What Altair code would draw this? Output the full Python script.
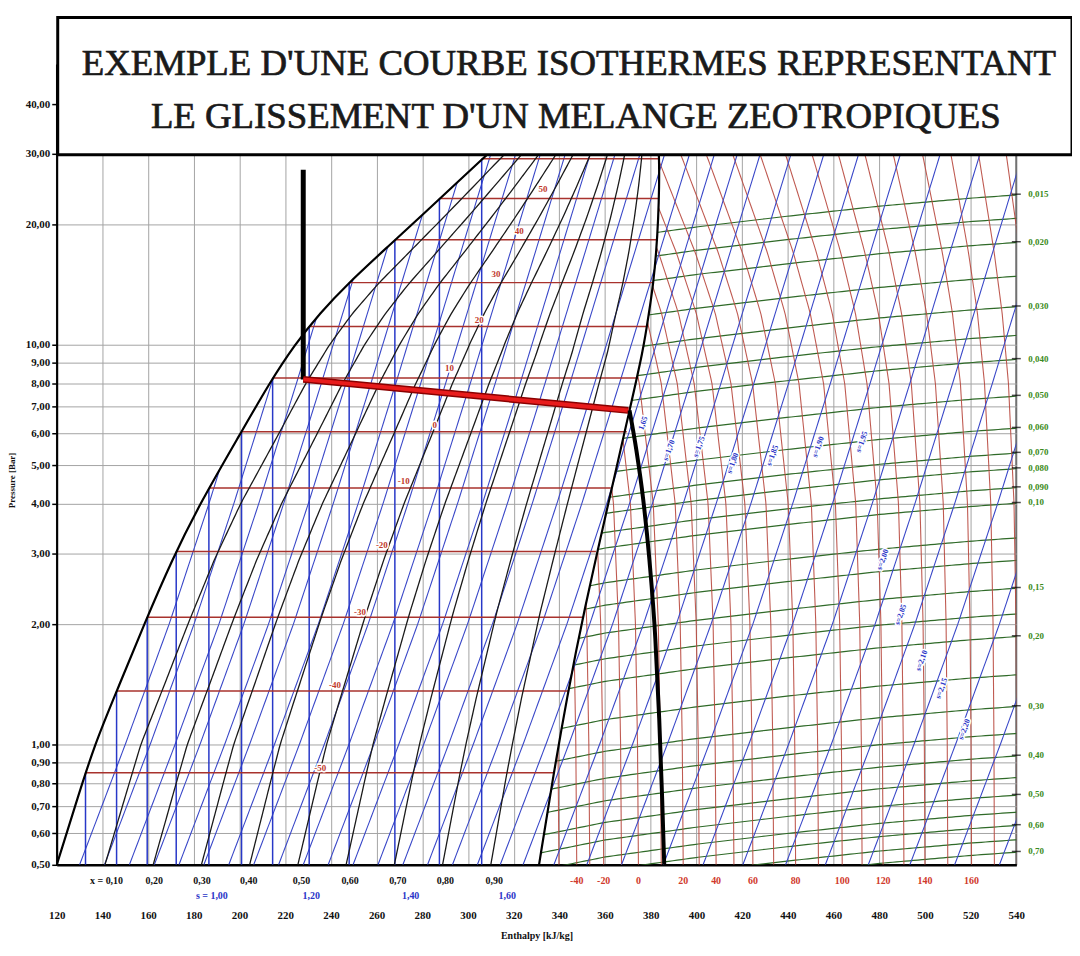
import numpy as np
import pandas as pd
import altair as alt

alt.data_transformers.disable_max_rows()

# ---------------- axes ----------------
H_TICKS = list(range(120, 541, 20))
P_TICKS = [0.5, 0.6, 0.7, 0.8, 0.9, 1, 2, 3, 4, 5, 6, 7, 8, 9, 10, 20, 30, 40]

# ---------------- saturation dome (read) ----------------
SAT_L_P = [0.5, 0.7, 1.0, 1.4, 2.0, 2.9, 4.0, 6.06, 8.0, 10.0, 12.0, 14.2, 17.5, 21.5, 28.7, 36.0]
SAT_L_H = [120.0, 128.0, 136.5, 147.2, 158.3, 170.5, 182.6, 200.9, 213.0, 224.1, 235.2, 247.3, 264.5, 281.5, 305.0, 323.7]
SAT_V_P = [0.5, 0.82, 1.30, 2.14, 4.34, 6.85, 9.67, 12.0, 14.2, 17.0, 20.7, 25.0, 29.2, 36.0]
SAT_V_H = [331.1, 337.1, 343.2, 350.6, 362.8, 370.7, 376.7, 379.2, 381.1, 382.4, 383.3, 383.7, 383.7, 383.0]

# ---------------- two-phase isotherms ----------------
TP_T = [-50, -40, -30, -20, -10, 0, 10, 20, 30, 40, 50, 60]
TP_P = [0.85, 1.36, 2.08, 3.04, 4.38, 6.06, 8.25, 11.1, 14.3, 18.3, 23.2, 29.2]
TP_HL = [132.6, 146.2, 159.6, 172.3, 186.6, 200.9, 214.5, 230.5, 248.0, 268.0, 287.5, 306.0]
TP_HV = [337.5, 344.0, 350.5, 356.0, 362.5, 369.5, 374.5, 378.0, 381.0, 382.5, 383.5, 383.7]
TP_LAB = ["-50", "-40", "-30", "-20", "-10", "0", "10", "20", "30", "40", "50"]
TP_LAB_H = [235.3, 241.8, 252.7, 262.3, 271.9, 285.4, 291.9, 304.9, 312.3, 322.4, 332.8]
TP_LAB_P = [0.871, 1.41, 2.15, 3.16, 4.55, 6.3, 8.74, 11.5, 15.0, 19.2, 24.5]

# ---------------- quality lines ----------------
Q_VALUES = [0.1, 0.2, 0.3, 0.4, 0.5, 0.6, 0.7, 0.8, 0.9]
Q_LAB = ["x = 0,10", "0,20", "0,30", "0,40", "0,50", "0,60", "0,70", "0,80", "0,90"]
Q_LAB_H = [141.8, 162.7, 183.6, 204.0, 227.1, 248.4, 269.3, 290.1, 311.5]

# ---------------- superheated isotherms ----------------
SH_T = [-50, -40, -30, -20, -10, 0, 10, 20, 30, 40, 50, 60, 70, 80, 90, 100, 110, 120, 130, 140, 150, 160, 170, 180, 190]
SH_H0 = [339.8, 347.6, 353.3, 359.4, 367.2, 374.6, 384.6, 394.2, 401.2, 408.6, 416.4, 424.7, 433.8,
         443.4, 453.4, 463.8, 472.5, 481.7, 490.8, 500.0, 510.0, 520.4, 530.4, 540.4, 550.4]
LEAN_P = [0.5, 1, 2, 4, 8, 12, 17, 29, 40]
LEAN_DH = [0, -0.4, -1.3, -3.5, -9.6, -16.5, -25.2, -41.3, -52.0]
LEAN_T = [-50, 60, 100, 170, 190]
LEAN_F = [1.0, 1.0, 0.85, 0.45, 0.35]
SH_LAB = ["-40", "-20", "0", "20", "40", "60", "80", "100", "120", "140", "160"]
SH_LAB_H = [347.6, 359.4, 374.6, 394.2, 408.6, 424.7, 443.4, 463.8, 481.7, 500.0, 520.4]

# ---------------- isentropes ----------------
ISEN_H0 = [130.0, 140.9, 151.8, 162.7, 173.5, 184.4, 195.3, 206.2, 217.1, 227.9, 238.8, 249.7, 260.6,
           271.5, 282.3, 293.2, 304.1, 314.1, 324.1, 337.6, 352.0, 367.2, 385.5, 402.9, 420.3, 439.0,
           456.4, 475.2, 493.4, 513.0, 532.6]
ISEN_P = [0.5, 1, 2, 4, 8, 16, 32, 45]
ISEN_DH = [0, 20.0, 39.2, 56.6, 73.1, 89.2, 105.3, 113.0]
S_LAB = ["1,65", "s=1,70", "s=1,75", "s=1,80", "s=1,85", "s=1,90", "s=1,95", "s=2,00", "s=2,05", "s=2,10", "s=2,15", "s=2,20"]
S_LAB_H = [376.8, 388.1, 401.2, 416.0, 433.4, 453.4, 472.5, 481.7, 489.5, 498.7, 507.4, 517.4]
S_LAB_P = [6.36, 5.44, 5.55, 5.05, 5.28, 5.55, 5.71, 2.90, 2.11, 1.62, 1.38, 1.09]
S_BOT_LAB = ["s = 1,00", "1,20", "1,40", "1,60"]
S_BOT_H = [187.9, 231.4, 274.9, 317.2]

# ---------------- isochores ----------------
V_LAB = ["0,015", "0,020", "0,030", "0,040", "0,050", "0,060", "0,070", "0,080", "0,090", "0,10",
         "0,15", "0,20", "0,30", "0,40", "0,50", "0,60", "0,70"]
V_PR = [23.8, 18.1, 12.5, 9.23, 7.47, 6.21, 5.38, 4.92, 4.41, 4.03, 2.47, 1.87, 1.25, 0.94, 0.75, 0.63, 0.54]
V_EXTRA_PR = [20.8, 14.9, 10.6, 3.3, 2.9, 2.13, 1.5, 1.07, 0.83, 0.68, 0.58]
V_OFF_H = [325, 340, 360, 400, 440, 480, 520, 545]
V_OFF_DLOGP = [-0.154, -0.137, -0.114, -0.082, -0.055, -0.030, -0.010, 0.0]

# ---------------- process lines ----------------
PV_H = [227.9, 227.9]
PV_P = [8.19, 27.4]
PR_H = [227.9, 370.2]
PR_P = [8.19, 6.85]
PC_H = [370.7, 373.7, 376.7, 379.4, 382.0, 383.7, 385.0, 385.9]
PC_P = [6.85, 5.45, 4.10, 2.90, 1.84, 1.16, 0.73, 0.5]

TITLE1 = "EXEMPLE D'UNE COURBE ISOTHERMES REPRESENTANT"
TITLE2 = "LE GLISSEMENT D'UN MELANGE ZEOTROPIQUES"

# ================= build curves =================
P_GRID = np.geomspace(0.5, 36.0, 140)
LPG = np.log10(P_GRID)
lSLP, lSVP = np.log10(SAT_L_P), np.log10(SAT_V_P)


def hl_of(lp):
    return np.interp(lp, lSLP, SAT_L_H)


def hv_of(lp):
    return np.interp(lp, lSVP, SAT_V_H)


def clip_run(hs, lps, d):
    inside = d >= 0
    oh, olp = [], []
    started = False
    for i in range(len(hs)):
        if inside[i]:
            if not started and i > 0:
                t = d[i - 1] / (d[i - 1] - d[i])
                oh.append(hs[i - 1] + t * (hs[i] - hs[i - 1]))
                olp.append(lps[i - 1] + t * (lps[i] - lps[i - 1]))
            started = True
            oh.append(hs[i]); olp.append(lps[i])
        elif started:
            t = d[i - 1] / (d[i - 1] - d[i])
            oh.append(hs[i - 1] + t * (hs[i] - hs[i - 1]))
            olp.append(lps[i - 1] + t * (lps[i] - lps[i - 1]))
            break
    return oh, [10 ** v for v in olp]


def frame(rows):
    return pd.DataFrame(rows, columns=["id", "k", "h", "p"])


rows = []
for q in Q_VALUES:
    hl, hv = hl_of(LPG), hv_of(LPG)
    hs = hl + q * (hv - hl)
    for k, (h, p) in enumerate(zip(hs, P_GRID)):
        rows.append((f"q{q}", k, h, p))
df_q = frame(rows)

rows = []
for k, (h, p) in enumerate(zip(SAT_L_H, SAT_L_P)):
    rows.append(("L", k, h, p))
for k, (h, p) in enumerate(zip(SAT_V_H, SAT_V_P)):
    rows.append(("V", k, h, p))
df_sat = frame(rows)

rows = []
for i, h0 in enumerate(ISEN_H0):
    hs = h0 + np.interp(LPG, np.log10(ISEN_P), ISEN_DH)
    d = hs - hl_of(LPG)
    oh, op = clip_run(hs, LPG, d)
    for k, (h, p) in enumerate(zip(oh, op)):
        rows.append((f"s{i}", k, h, p))
df_s = frame(rows)

rows = []
for T, h0 in zip(SH_T, SH_H0):
    f = np.interp(T, LEAN_T, LEAN_F)
    hs = h0 + f * np.interp(LPG, np.log10(LEAN_P), LEAN_DH)
    d = hs - hv_of(LPG)
    oh, op = clip_run(hs, LPG, d)
    for k, (h, p) in enumerate(zip(oh, op)):
        rows.append((f"T{T}", k, h, p))
df_sh = frame(rows)

rows = []
H_GRID = np.linspace(325, 545, 120)
for j, pr in enumerate(V_PR + V_EXTRA_PR):
    lps = np.log10(pr) + np.interp(H_GRID, V_OFF_H, V_OFF_DLOGP)
    d = H_GRID - hv_of(lps)
    oh, op = clip_run(H_GRID, lps, d)
    for k, (h, p) in enumerate(zip(oh, op)):
        rows.append((f"v{j}", k, h, p))
df_v = frame(rows)

rows = []
for T, p, a, b in zip(TP_T, TP_P, TP_HL, TP_HV):
    rows.append((f"t{T}", 0, a, p)); rows.append((f"t{T}", 1, b, p))
df_tp = frame(rows)
rows = []
for i, (h, p) in enumerate(zip(TP_HL, TP_P)):
    rows.append((f"l{i}", 0, h, p)); rows.append((f"l{i}", 1, h, 0.5))
df_liq = frame(rows)

df_pv = frame([("a", k, h, p) for k, (h, p) in enumerate(zip(PV_H, PV_P))])
df_pr = frame([("a", k, h, p) for k, (h, p) in enumerate(zip(PR_H, PR_P))])
df_pc = frame([("a", k, h, p) for k, (h, p) in enumerate(zip(PC_H, PC_P))])

# ================= chart =================
SERIF = "Liberation Serif"
sx = alt.Scale(domain=[120, 540], nice=False, zero=False)
sy = alt.Scale(type="log", domain=[0.5, 50], nice=False)
xaxis = alt.Axis(values=H_TICKS, grid=True, gridColor="#a3a3a3", gridWidth=1, ticks=False, tickSize=0,
                 labelPadding=45, labelFont=SERIF, labelFontWeight="bold", labelFontSize=11, labelColor="#111",
                 domainColor="#000", domainWidth=2.5, titleFont=SERIF, titleFontWeight="bold", titleFontSize=10,
                 titlePadding=10, titleColor="#111", labelFlush=False, labelOverlap=False)
yaxis = alt.Axis(values=P_TICKS, grid=True, gridColor="#a3a3a3", gridWidth=1, tickSize=5, tickColor="#000",
                 tickWidth=1.5, labelPadding=2, labelExpr="replace(format(datum.value, '.2f'), '.', ',')",
                 labelFont=SERIF, labelFontWeight="bold", labelFontSize=11, labelColor="#111",
                 labelOverlap=False, domainColor="#000", domainWidth=2, titleFont=SERIF, titleFontWeight="bold",
                 titleFontSize=9, titleColor="#111", titleX=-40, titleY=417, titleAngle=270)
X = alt.X("h:Q", scale=sx, axis=xaxis, title="Enthalpy [kJ/kg]")
Y = alt.Y("p:Q", scale=sy, axis=yaxis, title="Pressure [Bar]")


def lines(df, color, width, opacity=1.0, interp="linear"):
    return alt.Chart(df).mark_line(color=color, strokeWidth=width, opacity=opacity, clip=True,
                                   interpolate=interp).encode(
        x=X, y=Y, detail="id:N", order=alt.Order("k:Q"))


def texts(hs, ps, labels, color, size=9, dy=0, dx=0, angle=0, halo=False, align="center"):
    df = pd.DataFrame({"h": hs, "p": ps, "t": labels})
    kw = dict(font=SERIF, fontWeight="bold", fontSize=size, color=color, dy=dy, dx=dx, angle=angle,
              align=align, baseline="middle")
    layers = []
    if halo:
        layers.append(alt.Chart(df).mark_text(stroke="white", strokeWidth=3, **kw).encode(x=X, y=Y, text="t:N"))
    layers.append(alt.Chart(df).mark_text(**kw).encode(x=X, y=Y, text="t:N"))
    return layers


layers = [
    lines(df_v, "#2f6a28", 1.2),
    lines(df_sh, "#b8483e", 1.1, 0.9),
    lines(df_s, "#3a48c8", 1.1),
    lines(df_liq, "#2838c8", 1.5),
    lines(df_tp, "#a8322d", 1.5),
    lines(df_q, "#1a1a1a", 1.3, interp="basis"),
    lines(df_sat, "#000000", 2.2, interp="basis"),
    lines(df_pv, "#000000", 5),
    lines(df_pr, "#8a0000", 7),
    lines(df_pr, "#e81c1c", 4),
    lines(df_pc, "#000000", 4, interp="monotone"),
]
layers += texts(TP_LAB_H, TP_LAB_P, TP_LAB, "#c0392b", size=9, halo=True)
layers += texts(S_LAB_H, S_LAB_P, S_LAB, "#2a35c8", size=8, angle=290, halo=True)
layers += texts(Q_LAB_H, [0.5] * len(Q_LAB), Q_LAB, "#111", size=10, dy=16)
layers += texts(SH_LAB_H, [0.5] * len(SH_LAB), SH_LAB, "#d0392b", size=10, dy=16)
layers += texts(S_BOT_H, [0.5] * len(S_BOT_LAB), S_BOT_LAB, "#2a35c8", size=10, dy=31)
layers += texts([540] * len(V_LAB), V_PR, V_LAB, "#3a8a20", size=9, dx=12, align="left")
layers.append(alt.Chart(pd.DataFrame({"h": [540] * len(V_PR), "p": V_PR})).mark_tick(
    orient="horizontal", size=9, thickness=1.5, color="#000").encode(x=X, y=Y))

box = alt.Chart(pd.DataFrame({"a": [0]})).mark_rect(fill="white", stroke="#000", strokeWidth=3).encode(
    x=alt.value(1), x2=alt.value(1021), y=alt.value(-48), y2=alt.value(90))
tkw = dict(font=SERIF, fontSize=37, color="#1a1a1a", stroke="#1a1a1a", strokeWidth=0.7,
           align="center", baseline="middle")
t1 = alt.Chart(pd.DataFrame({"a": [0]})).mark_text(**tkw).encode(
    x=alt.value(515), y=alt.value(-1), text=alt.value(TITLE1))
t2 = alt.Chart(pd.DataFrame({"a": [0]})).mark_text(**tkw).encode(
    x=alt.value(522), y=alt.value(52), text=alt.value(TITLE2))
layers += [box, t1, t2]

chart = alt.layer(*layers).properties(
    width=965, height=804,
    autosize=alt.AutoSizeParams(type="none"),
    padding={"left": 49, "top": 55, "right": 56, "bottom": 75},
    background="white",
).configure_view(stroke="#000", strokeWidth=1.5)

chart.save("out.html", embed_options={"renderer": "svg", "actions": False})
